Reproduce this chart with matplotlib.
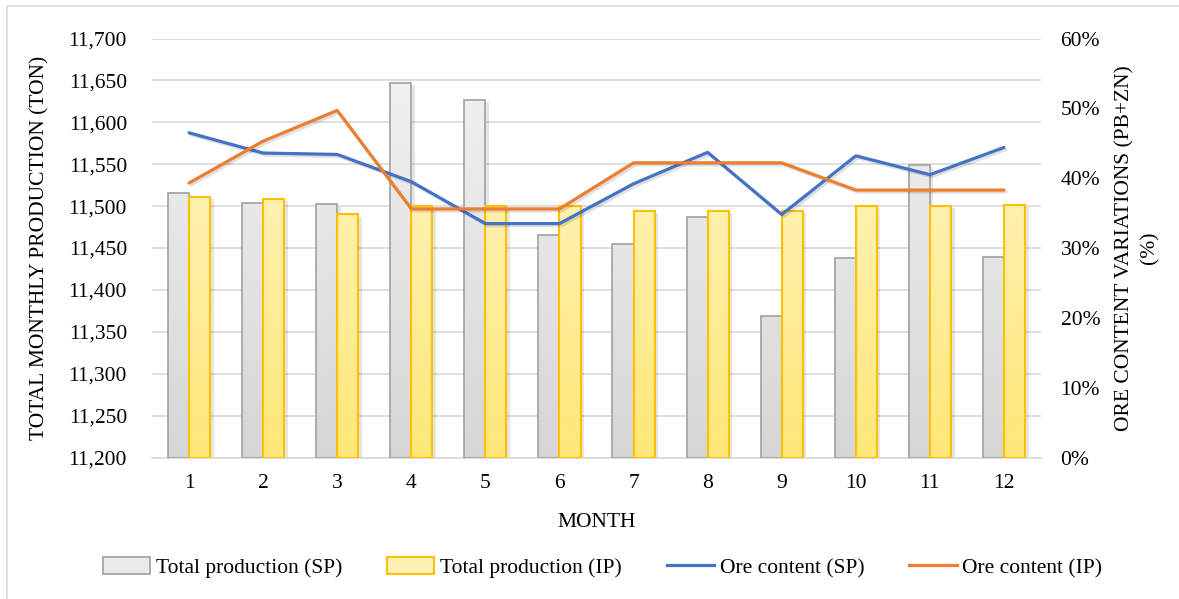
import numpy as np
import matplotlib
matplotlib.use("Agg")
import matplotlib.pyplot as plt
from matplotlib.colors import LinearSegmentedColormap
from matplotlib.patches import Rectangle, Patch
from matplotlib.lines import Line2D
from matplotlib.ticker import FuncFormatter, MultipleLocator
import matplotlib.patheffects as pe

months = ["1", "2", "3", "4", "5", "6", "7", "8", "9", "10", "11", "12"]
prod_sp = [11516, 11504, 11502, 11647, 11627, 11465, 11455, 11487, 11369, 11438, 11549, 11439]
prod_ip = [11511, 11508, 11490, 11500, 11500, 11500, 11494, 11494, 11494, 11500, 11500, 11501]
ore_sp = [46.5, 43.6, 43.4, 39.5, 33.5, 33.5, 39.2, 43.7, 34.8, 43.2, 40.5, 44.4]
ore_ip = [39.3, 45.3, 49.7, 35.6, 35.6, 35.6, 42.2, 42.2, 42.2, 38.3, 38.3, 38.3]

plt.rcParams['font.family'] = ['Liberation Serif', 'DejaVu Serif']
FS = 15.5

fig = plt.figure(figsize=(11.79, 5.99), dpi=100)
ax = fig.add_axes([0.1289, 0.2362, 0.7541, 0.6995])
ax2 = ax.twinx()

x = np.arange(len(months))
w = 0.285
ymin, ymax = 11200, 11700

grey_cmap = LinearSegmentedColormap.from_list("g", ["#f4f4f4", "#d6d6d6"])
yel_cmap = LinearSegmentedColormap.from_list("y", ["#fff6d2", "#ffe878"])
grad = np.linspace(0, 1, 256).reshape(-1, 1)

def gradient_bars(xpos, vals, cmap, edge, lw):
    ax.bar(xpos, np.array(vals) - ymin, w, bottom=ymin, color='none',
           edgecolor='none', zorder=1.5,
           path_effects=[pe.SimplePatchShadow(offset=(2.5, -1.5), shadow_rgbFace='k', alpha=0.10)])
    bars = ax.bar(xpos, np.array(vals) - ymin, w, bottom=ymin, color='none',
                  edgecolor=edge, linewidth=lw, zorder=3)
    for b in bars:
        bx, bw = b.get_x(), b.get_width()
        im = ax.imshow(grad, extent=[bx, bx + bw, ymin, ymax], cmap=cmap,
                       aspect='auto', origin='upper', zorder=2, interpolation='bilinear')
        im.set_clip_path(b)
    return bars

gradient_bars(x - w / 2, prod_sp, grey_cmap, "#a6a6a6", 1.3)
gradient_bars(x + w / 2, prod_ip, yel_cmap, "#ffc000", 1.5)

ax.set_xlim(-0.5, len(months) - 0.5)
ax.set_ylim(ymin, ymax)
ax.yaxis.set_major_locator(MultipleLocator(50))
ax.yaxis.set_major_formatter(FuncFormatter(lambda v, p: f"{v:,.0f}"))
ax.grid(axis='y', color='#d9d9d9', linewidth=1.2, zorder=0)
ax.set_axisbelow(True)
ax.set_xticks(x)
ax.set_xticklabels(months)
for s in ['top', 'right', 'left']:
    ax.spines[s].set_visible(False)
ax.spines['bottom'].set_color('#d9d9d9')
ax.spines['bottom'].set_linewidth(1.2)
ax.tick_params(axis='y', length=0, pad=18, labelsize=FS, colors='black')
ax.tick_params(axis='x', length=0, pad=12, labelsize=FS)

line_shadow = [pe.SimpleLineShadow(offset=(1.5, -1.5), alpha=0.12), pe.Normal()]
ax2.plot(x, ore_sp, color="#4472c4", lw=2.3, zorder=5, path_effects=line_shadow,
         solid_capstyle='round')
ax2.plot(x, ore_ip, color="#ed7d31", lw=2.3, zorder=5, path_effects=line_shadow,
         solid_capstyle='round')
ax2.set_ylim(0, 60)
ax2.yaxis.set_major_locator(MultipleLocator(10))
ax2.yaxis.set_major_formatter(FuncFormatter(lambda v, p: f"{v:.0f}%"))
for s in ax2.spines.values():
    s.set_visible(False)
ax2.tick_params(axis='y', length=0, pad=14, labelsize=FS)

ax.set_ylabel("TOTAL MONTHLY PRODUCTION (TON)", fontsize=FS, va='center')
ax.yaxis.set_label_coords(-0.126, 0.5)
ax.set_xlabel("MONTH", fontsize=FS, va='center')
ax.xaxis.set_label_coords(0.5, -0.155)
ax2.set_ylabel("ORE CONTENT VARIATIONS (PB+ZN)\n(%)", fontsize=FS, va='center',
               ha='center', linespacing=1.4)
ax2.yaxis.set_label_coords(1.108, 0.5)

handles = [
    Patch(facecolor="#ebebeb", edgecolor="#a6a6a6", linewidth=1.3),
    Patch(facecolor="#fff1b8", edgecolor="#ffc000", linewidth=1.5),
    Line2D([], [], color="#4472c4", lw=2.3),
    Line2D([], [], color="#ed7d31", lw=2.3),
]
labels = ["Total production (SP)", "Total production (IP)", "Ore content (SP)", "Ore content (IP)"]
fig.legend(handles, labels, loc='center', bbox_to_anchor=(0.511, 0.052), ncol=4,
           frameon=False, fontsize=FS, handlelength=2.2, handleheight=0.8,
           handletextpad=0.25, columnspacing=2.1)

fig.add_artist(Rectangle((7 / 1179, -0.1), 1.2, 1.1 - 6.5 / 599, transform=fig.transFigure,
                         facecolor='none', edgecolor='#d9d9d9', linewidth=1.2))

fig.savefig("out.png", dpi=100)
